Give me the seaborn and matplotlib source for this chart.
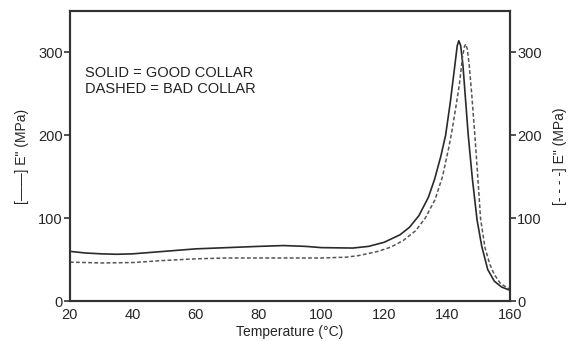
import matplotlib
matplotlib.use("Agg")
import matplotlib.pyplot as plt
import seaborn as sns
import pandas as pd

sns.set_theme(style="white")
plt.rcParams['font.family'] = ['Liberation Sans', 'DejaVu Sans']

solid_t = [20, 25, 30, 35, 40, 50, 60, 70, 80, 88, 95, 100, 110, 115, 120, 125, 128, 131, 134, 136, 138, 139.5, 141, 142.3, 143.2, 143.7, 144.3, 145, 145.8, 146.7, 148, 149.5, 151, 152.9, 155, 157.3, 160]
solid_e = [60, 58, 57, 56.5, 57, 60, 63, 64.5, 66, 67, 66, 64.5, 64, 66, 71, 80, 89, 103, 125, 147, 175, 200, 240, 280, 308, 314, 308, 285, 245, 200, 148, 98, 66, 38, 24, 17, 13]

dash_t = [20, 25, 30, 40, 50, 60, 70, 80, 90, 100, 108, 112, 118, 122, 126, 130, 133, 136.1, 138.5, 140.5, 141.5, 142.8, 143.9, 144.9, 145.5, 145.9, 146.4, 147, 147.8, 148.9, 150, 150.6, 152, 153.5, 155, 157, 160]
dash_e = [47, 46.5, 46, 46.5, 49, 51, 52, 52, 52, 52, 53, 55, 60, 65, 73, 85, 100, 122, 150, 185, 205, 235, 262, 295, 307, 310, 304, 285, 250, 195, 135, 100, 65, 45, 32, 21, 14]

df_s = pd.DataFrame({"t": solid_t, "e": solid_e})
df_d = pd.DataFrame({"t": dash_t, "e": dash_e})

fig = plt.figure(figsize=(5.68, 3.41), dpi=100)
ax = fig.add_axes([0.123, 0.117, 0.775, 0.851])

sns.lineplot(data=df_s, x="t", y="e", ax=ax, color="#2a2a2a", lw=1.2)
sns.lineplot(data=df_d, x="t", y="e", ax=ax, color="#555555", lw=1.1, linestyle=(0, (2.5, 1.5)))

ax.set_xlim(20, 160)
ax.set_ylim(0, 350)
ax.set_xticks([20, 40, 60, 80, 100, 120, 140, 160])
ax.set_yticks([0, 100, 200, 300])
for s in ax.spines.values():
    s.set_color("#333333")
    s.set_linewidth(1.5)
ax.tick_params(axis="x", direction="inout", length=6, width=1.2, color="#333333", labelsize=10.5, pad=2)
ax.tick_params(axis="y", direction="out", length=4, width=1.2, color="#333333", labelsize=10.5, pad=1, left=True)
ax.set_xlabel("Temperature (\u00b0C)", fontsize=10, labelpad=2)
ax.set_ylabel("[\u2014\u2014] E\" (MPa)", fontsize=10, labelpad=7)

ax2 = ax.twinx()
ax2.set_ylim(0, 350)
ax2.set_yticks([0, 100, 200, 300])
ax2.tick_params(axis="y", direction="out", length=4, width=1.2, color="#333333", labelsize=10.5, pad=1, right=True)
ax2.set_ylabel("[- - - -] E\" (MPa)", fontsize=10, labelpad=8)
for s in ax2.spines.values():
    s.set_color("#333333")
    s.set_linewidth(1.5)

ax.text(0.035, 0.81, "SOLID = GOOD COLLAR\nDASHED = BAD COLLAR", transform=ax.transAxes,
        fontsize=10.5, color="#222222", va="top", ha="left", linespacing=1.15)

fig.savefig("out.png", dpi=100)
